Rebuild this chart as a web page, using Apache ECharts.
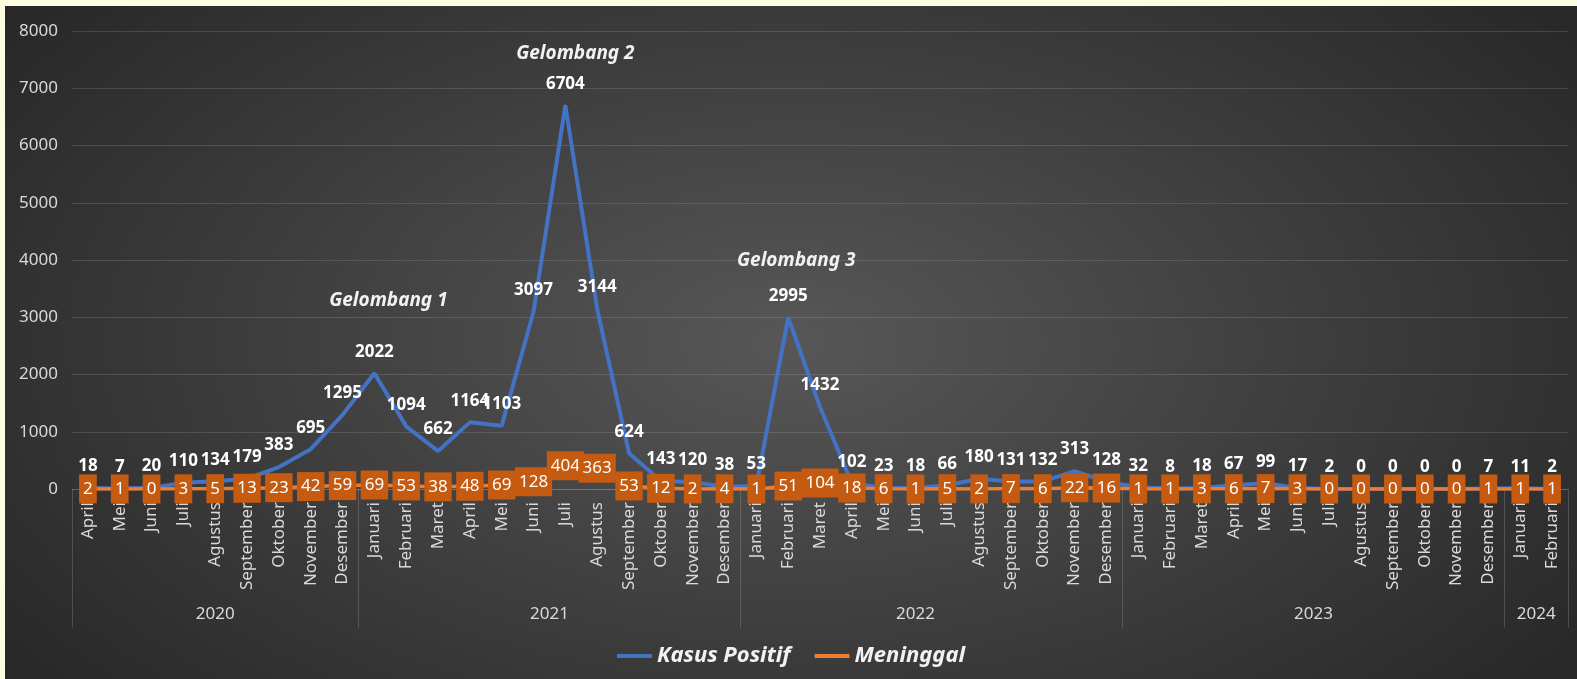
<!DOCTYPE html>
<html>
<head>
<meta charset="utf-8">
<script src="https://cdn.jsdelivr.net/npm/echarts@6/dist/echarts.min.js"></script>
<style>
html,body{margin:0;padding:0;background:#FFFFE1;width:1577px;height:679px;overflow:hidden;}
#chart{position:absolute;left:5px;top:6px;width:1572px;height:673px;
background:radial-gradient(ellipse 62% 80% at 50% 50%, #575757 0%, #3d3d3d 55%, #282828 100%);}
</style>
</head>
<body>
<div id="chart"></div>
<script>
// ---- data ----
const months = [
  'April','Mei','Juni','Juli','Agustus','September','Oktober','November','Desember',
  'Januari','Februari','Maret','April','Mei','Juni','Juli','Agustus','September','Oktober','November','Desember',
  'Januari','Februari','Maret','April','Mei','Juni','Juli','Agustus','September','Oktober','November','Desember',
  'Januari','Februari','Maret','April','Mei','Juni','Juli','Agustus','September','Oktober','November','Desember',
  'Januari','Februari'
];
const yearOfMonth = [
  '2020','2020','2020','2020','2020','2020','2020','2020','2020',
  '2021','2021','2021','2021','2021','2021','2021','2021','2021','2021','2021','2021',
  '2022','2022','2022','2022','2022','2022','2022','2022','2022','2022','2022','2022',
  '2023','2023','2023','2023','2023','2023','2023','2023','2023','2023','2023','2023',
  '2024','2024'
];
const kasusPositif = [
  18, 7, 20, 110, 134, 179, 383, 695, 1295,
  2022, 1094, 662, 1164, 1103, 3097, 6704, 3144, 624, 143, 120, 38,
  53, 2995, 1432, 102, 23, 18, 66, 180, 131, 132, 313, 128,
  32, 8, 18, 67, 99, 17, 2, 0, 0, 0, 0, 7,
  11, 2
];
const meninggal = [
  2, 1, 0, 3, 5, 13, 23, 42, 59,
  69, 53, 38, 48, 69, 128, 404, 363, 53, 12, 2, 4,
  1, 51, 104, 18, 6, 1, 5, 2, 7, 6, 22, 16,
  1, 1, 3, 6, 7, 3, 0, 0, 0, 0, 0, 1,
  1, 1
];
const waveNames = ['Gelombang 1', 'Gelombang 2', 'Gelombang 3'];
const wavePeakIndex = [9, 15, 22];
const yMin = 0, yMax = 8000, yInterval = 1000;

// ---- layout helpers ----
const FONT = 'Noto Sans';
const yearStart = [];
yearOfMonth.forEach((y, i) => { if (i === 0 || y !== yearOfMonth[i - 1]) yearStart.push(i); });
const yearLabelIdx = {}, yearLabelShift = {};
yearStart.forEach((s, k) => {
  const e = (k + 1 < yearStart.length ? yearStart[k + 1] : yearOfMonth.length);
  const n = e - s;
  const mid = s + Math.floor((n - 1) / 2);
  yearLabelIdx[mid] = true;
  yearLabelShift[mid] = (n % 2 === 0);
});
yearLabelShift[26] = false;

const waveOffsets = [[14, -73], [10, -52], [8, -57]];

const chart = echarts.init(document.getElementById('chart'), null, {renderer: 'canvas'});
chart.setOption({
  backgroundColor: 'transparent',
  animation: false,
  grid: {left: 67, right: 9, top: 25, bottom: 190, containLabel: false, outerBoundsMode: 'none'},
  legend: {
    data: ['Kasus Positif', 'Meninggal'],
    top: 634, left: 'center',
    icon: 'rect', itemWidth: 35, itemHeight: 4, itemGap: 24,
    textStyle: {color: '#f2f2f2', fontSize: 22, fontWeight: 'bold', fontStyle: 'italic', fontFamily: FONT}
  },
  xAxis: [
    {
      type: 'category', data: months, boundaryGap: true,
      axisLine: {show: true, lineStyle: {color: 'rgba(255,255,255,0.14)', width: 1}},
      axisTick: {show: false},
      axisLabel: {interval: 0, rotate: 90, margin: 13, color: '#d9d9d9', fontSize: 17, fontFamily: FONT}
    },
    {
      type: 'category', data: yearOfMonth, boundaryGap: true, position: 'bottom',
      axisLine: {show: false},
      axisTick: {show: true, interval: (i) => yearStart.indexOf(i) >= 0, length: 139,
        lineStyle: {color: 'rgba(255,255,255,0.16)', width: 1}},
      axisLabel: {
        interval: (i) => !!yearLabelIdx[i], margin: 117,
        color: '#d9d9d9', fontSize: 17, fontFamily: FONT,
        formatter: (v, i) => yearLabelShift[i] ? '{s|' + v + '}' : '{n|' + v + '}',
        rich: {
          s: {padding: [0, 0, 0, 32], color: '#d9d9d9', fontSize: 17, fontFamily: FONT},
          n: {color: '#d9d9d9', fontSize: 17, fontFamily: FONT}
        }
      }
    }
  ],
  yAxis: {
    type: 'value', min: yMin, max: yMax, interval: yInterval,
    axisLine: {show: false}, axisTick: {show: false},
    axisLabel: {margin: 14, color: '#d9d9d9', fontSize: 17, fontFamily: FONT,
      formatter: (v) => String(v)},
    splitLine: {lineStyle: {color: 'rgba(255,255,255,0.13)', width: 1}}
  },
  series: [
    {
      name: 'Kasus Positif', type: 'line', data: kasusPositif, z: 2,
      symbol: 'circle', symbolSize: 2, showSymbol: true,
      lineStyle: {color: '#4472C4', width: 4},
      itemStyle: {color: '#4472C4'},
      label: {show: true, position: 'top', distance: 12, color: '#ffffff',
        fontWeight: 'bold', fontSize: 17, fontFamily: FONT},
      emphasis: {disabled: true},
      markPoint: {
        symbol: 'circle', symbolSize: 1,
        itemStyle: {color: 'rgba(0,0,0,0)'},
        label: {show: true, position: 'inside', color: '#f2f2f2', fontSize: 19,
          fontWeight: 'bold', fontStyle: 'italic', fontFamily: FONT,
          formatter: (p) => p.name},
        data: waveNames.map((n, k) => ({
          name: n,
          coord: [wavePeakIndex[k], kasusPositif[wavePeakIndex[k]]],
          label: {offset: waveOffsets[k]}
        }))
      }
    },
    {
      name: 'Meninggal', type: 'line', data: meninggal, z: 3,
      symbol: 'circle', symbolSize: 2, showSymbol: true,
      lineStyle: {color: '#ED7D31', width: 3.5},
      itemStyle: {color: '#ED7D31'},
      label: {show: true, position: 'inside', color: '#ffffff', fontSize: 17, fontFamily: FONT,
        backgroundColor: '#C55A11', padding: [5, 4], lineHeight: 19},
      emphasis: {disabled: true}
    }
  ]
});
</script>
</body>
</html>
